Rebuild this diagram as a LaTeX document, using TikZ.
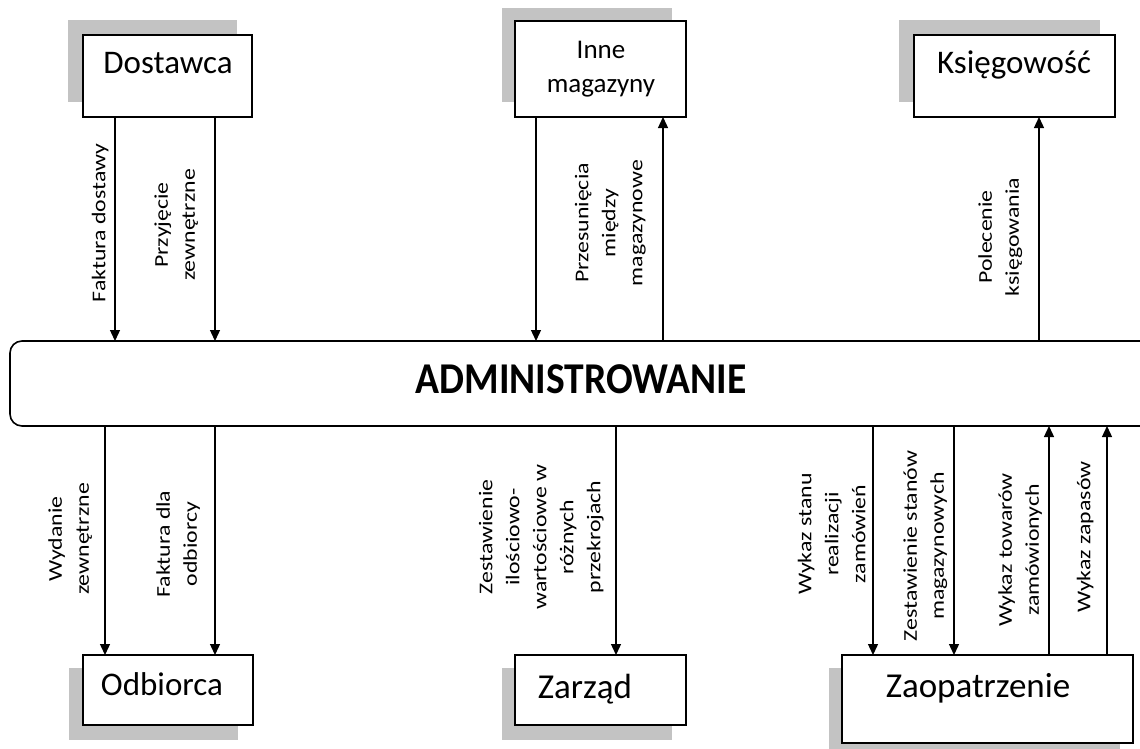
\documentclass[tikz,border=0pt]{standalone}
\usepackage{fontspec}
\setmainfont{Carlito}
\usepackage{graphicx}
\usetikzlibrary{arrows.meta}
\definecolor{shadowgray}{HTML}{C3C3C3}
\newcommand{\lbltext}[1]{\scalebox{1.22}[1]{\fontsize{19.5pt}{27pt}\selectfont\begin{tabular}{@{}c@{}}#1\end{tabular}}}
\begin{document}
\begin{tikzpicture}[x=1pt, y=-1pt,
  boxstyle/.style={draw=black, line width=1.6pt, fill=white, inner sep=0pt, outer sep=0pt, anchor=north west},
  adminbox/.style={draw=black, line width=1.6pt, fill=white, rounded corners=12pt, inner sep=0pt, outer sep=0pt, anchor=north west},
  shadowfill/.style={fill=shadowgray},
  flow/.style={line width=1.3pt, -{Triangle[length=11pt,width=10pt]}},
  lbl/.style={rotate=90, inner sep=0pt},
  boxtext/.style={anchor=base, inner sep=0pt}]
\useasboundingbox (0,0) rectangle (1140,748);
\clip (0,0) rectangle (1140,748);
% shadows
\fill[shadowfill] (68,20) rectangle (237,102);
\fill[shadowfill] (502,8) rectangle (672,102);
\fill[shadowfill] (899,20) rectangle (1100,102);
\fill[shadowfill] (69,668) rectangle (238,740);
\fill[shadowfill] (502,668) rectangle (672,740);
\fill[shadowfill] (829,668) rectangle (1120,756);
% boxes
\node[boxstyle, minimum width=169pt, minimum height=82pt] (dost) at (83,35) {};
\node[boxstyle, minimum width=171pt, minimum height=96pt] (inne) at (515,21) {};
\node[boxstyle, minimum width=201pt, minimum height=82pt] (ksieg) at (914,35) {};
\node[boxstyle, minimum width=170pt, minimum height=70pt] (odb) at (83,655) {};
\node[boxstyle, minimum width=171pt, minimum height=70pt] (zarz) at (515,655) {};
\node[boxstyle, minimum width=291pt, minimum height=88pt] (zaop) at (842,655) {};
\node[adminbox, minimum width=1142pt, minimum height=85pt] (adm) at (10,341) {};
% box texts
\node[boxtext, font=\fontsize{33pt}{40pt}\selectfont] (tdost) at (168,73) {Dostawca};
\node[boxtext, font=\fontsize{27pt}{34pt}\selectfont] (tinne) at (601,58) {\begin{tabular}[t]{@{}c@{}}Inne\\magazyny\end{tabular}};
\node[boxtext, font=\fontsize{33pt}{40pt}\selectfont] (tksieg) at (1014,73) {Księgowość};
\node[boxtext, font=\fontsize{33pt}{40pt}\selectfont] (todb) at (162,695) {Odbiorca};
\node[boxtext, font=\fontsize{35pt}{42pt}\selectfont] (tzarz) at (585,698) {Zarząd};
\node[boxtext, font=\fontsize{35pt}{42pt}\selectfont] (tzaop) at (978,697) {Zaopatrzenie};
\node[boxtext, font=\fontsize{44pt}{50pt}\selectfont\bfseries] (tadm) at (581,393) {\scalebox{0.9}[1]{ADMINISTROWANIE}};
% top arrows
\draw[flow] (dost.south -| 115,0) -- (adm.north -| 115,0);
\draw[flow] (dost.south -| 215,0) -- (adm.north -| 215,0);
\draw[flow] (inne.south -| 536,0) -- (adm.north -| 536,0);
\draw[flow] (adm.north -| 663,0) -- (inne.south -| 663,0);
\draw[flow] (adm.north -| 1039,0) -- (ksieg.south -| 1039,0);
% bottom arrows
\draw[flow] (adm.south -| 105,0) -- (odb.north -| 105,0);
\draw[flow] (adm.south -| 215,0) -- (odb.north -| 215,0);
\draw[flow] (adm.south -| 616,0) -- (zarz.north -| 616,0);
\draw[flow] (adm.south -| 873,0) -- (zaop.north -| 873,0);
\draw[flow] (adm.south -| 954,0) -- (zaop.north -| 954,0);
\draw[flow] (zaop.north -| 1049,0) -- (adm.south -| 1049,0);
\draw[flow] (zaop.north -| 1107,0) -- (adm.south -| 1107,0);
% labels
\node[lbl] (l1) at (100,223) {\lbltext{Faktura dostawy}};
\node[lbl] (l2) at (176,225) {\lbltext{Przyjęcie\\zewnętrzne}};
\node[lbl] (l3) at (610,223) {\lbltext{Przesunięcia\\między\\magazynowe}};
\node[lbl] (l4) at (1000,237) {\lbltext{Polecenie\\księgowania}};
\node[lbl] (l5) at (70,539) {\lbltext{Wydanie\\zewnętrzne}};
\node[lbl] (l6) at (178,544) {\lbltext{Faktura dla\\odbiorcy}};
\node[lbl] (l7) at (541,537) {\lbltext{Zestawienie\\ilościowo-\\wartościowe w\\różnych\\przekrojach}};
\node[lbl] (l8) at (833,534) {\lbltext{Wykaz stanu\\realizacji\\zamówień}};
\node[lbl] (l9) at (925,546) {\lbltext{Zestawienie stanów\\magazynowych}};
\node[lbl] (l10) at (1020,550) {\lbltext{Wykaz towarów\\zamówionych}};
\node[lbl] (l11) at (1085,537) {\lbltext{Wykaz zapasów}};
\end{tikzpicture}
\end{document}
